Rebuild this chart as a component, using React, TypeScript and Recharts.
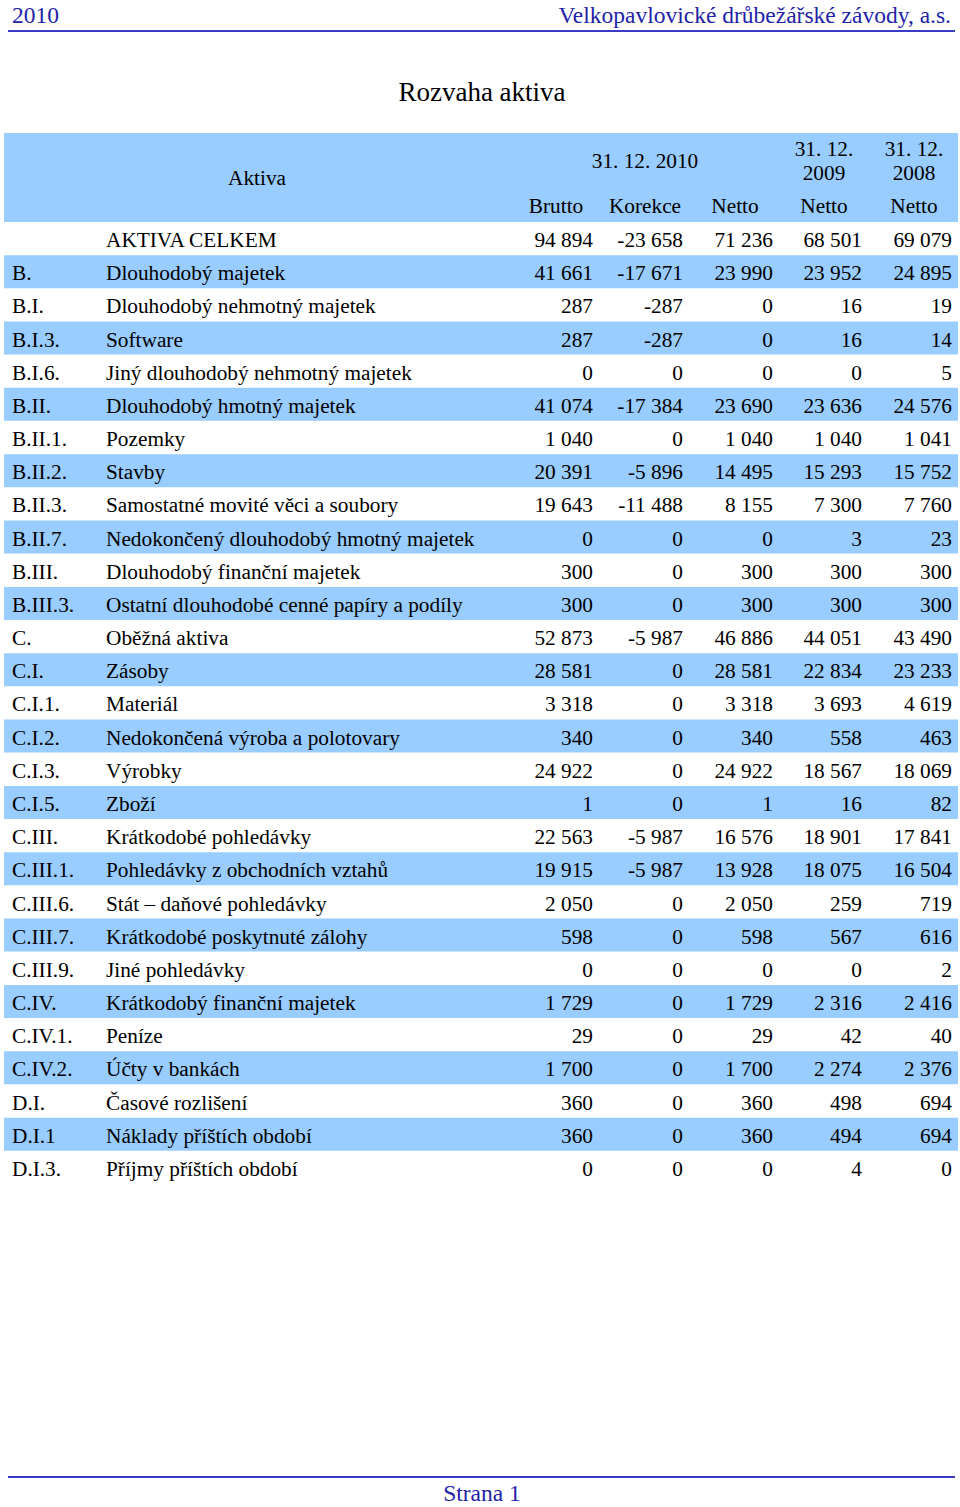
import React from 'react'
import { ComposedChart, Bar, XAxis, YAxis, Cell, LabelList } from 'recharts'

const codes = ['', 'B.', 'B.I.', 'B.I.3.', 'B.I.6.', 'B.II.', 'B.II.1.', 'B.II.2.', 'B.II.3.', 'B.II.7.', 'B.III.', 'B.III.3.', 'C.', 'C.I.', 'C.I.1.', 'C.I.2.', 'C.I.3.', 'C.I.5.', 'C.III.', 'C.III.1.', 'C.III.6.', 'C.III.7.', 'C.III.9.', 'C.IV.', 'C.IV.1.', 'C.IV.2.', 'D.I.', 'D.I.1', 'D.I.3.']
const names = ['AKTIVA CELKEM', 'Dlouhodobý majetek', 'Dlouhodobý nehmotný majetek', 'Software', 'Jiný dlouhodobý nehmotný majetek', 'Dlouhodobý hmotný majetek', 'Pozemky', 'Stavby', 'Samostatné movité věci a soubory', 'Nedokončený dlouhodobý hmotný majetek', 'Dlouhodobý finanční majetek', 'Ostatní dlouhodobé cenné papíry a podíly', 'Oběžná aktiva', 'Zásoby', 'Materiál', 'Nedokončená výroba a polotovary', 'Výrobky', 'Zboží', 'Krátkodobé pohledávky', 'Pohledávky z obchodních vztahů', 'Stát – daňové pohledávky', 'Krátkodobé poskytnuté zálohy', 'Jiné pohledávky', 'Krátkodobý finanční majetek', 'Peníze', 'Účty v bankách', 'Časové rozlišení', 'Náklady příštích období', 'Příjmy příštích období']
const brutto = [94894, 41661, 287, 287, 0, 41074, 1040, 20391, 19643, 0, 300, 300, 52873, 28581, 3318, 340, 24922, 1, 22563, 19915, 2050, 598, 0, 1729, 29, 1700, 360, 360, 0]
const korekce = [-23658, -17671, -287, -287, 0, -17384, 0, -5896, -11488, 0, 0, 0, -5987, 0, 0, 0, 0, 0, -5987, -5987, 0, 0, 0, 0, 0, 0, 0, 0, 0]
const netto2010 = [71236, 23990, 0, 0, 0, 23690, 1040, 14495, 8155, 0, 300, 300, 46886, 28581, 3318, 340, 24922, 1, 16576, 13928, 2050, 598, 0, 1729, 29, 1700, 360, 360, 0]
const netto2009 = [68501, 23952, 16, 16, 0, 23636, 1040, 15293, 7300, 3, 300, 300, 44051, 22834, 3693, 558, 18567, 16, 18901, 18075, 259, 567, 0, 2316, 42, 2274, 498, 494, 4]
const netto2008 = [69079, 24895, 19, 14, 5, 24576, 1041, 15752, 7760, 23, 300, 300, 43490, 23233, 4619, 463, 18069, 82, 17841, 16504, 719, 616, 2, 2416, 40, 2376, 694, 694, 0]
const subHeaders = ['Brutto', 'Korekce', 'Netto', 'Netto', 'Netto']

const BLUE = '#99CCFF'
const INK = '#000000'
const NAVY = '#2323a8'
const FONT = '"Liberation Serif", "Times New Roman", serif'
const FS = 21.3
const colRight = [593, 683, 773, 862, 952]
const colCenter = [556, 645, 735, 824, 914]

const rows = codes.map((code, i) => ({
  code, name: names[i], full: 1,
  vals: [brutto[i], korekce[i], netto2010[i], netto2009[i], netto2008[i]],
}))

const fmt = (v: number) => {
  const s = Math.abs(v).toString().replace(/\B(?=(\d{3})+(?!\d))/g, ' ')
  return v < 0 ? `-${s}` : s
}

function RowLabel(p: any) {
  const r = rows[p.index]
  if (!r) return null
  const base = p.y + p.height * 0.76
  return (
    <g fontFamily={FONT} fontSize={FS} fill={INK}>
      <text x={12} y={base}>{r.code}</text>
      <text x={106} y={base}>{r.name}</text>
      {r.vals.map((v, k) => (
        <text key={k} x={colRight[k]} y={base} textAnchor="end">{fmt(v)}</text>
      ))}
    </g>
  )
}

const abs = (left: number, top: number, extra: React.CSSProperties = {}): React.CSSProperties => ({ position: 'absolute', left, top, whiteSpace: 'nowrap', ...extra })
const cell = (cx: number, top: number, w = 100): React.CSSProperties => abs(cx - w / 2, top, { width: w, textAlign: 'center', fontSize: FS, lineHeight: '26px' })

export default function App() {
  const bodyH = 962
  return (
    <div style={{ position: 'absolute', left: 0, top: 0, width: 960, height: 1507, background: '#fff', fontFamily: FONT, color: INK, overflow: 'hidden' }}>
      <div style={abs(12, 2, { fontSize: 23.5, lineHeight: '26px', color: NAVY })}>2010</div>
      <div style={abs(0, 2, { width: 951, textAlign: 'right', fontSize: 23.5, lineHeight: '26px', color: NAVY })}>Velkopavlovické drůbežářské závody, a.s.</div>
      <div style={abs(8, 30, { width: 947, height: 2, background: '#3a3ac4' })} />

      <div style={abs(0, 76, { width: 964, textAlign: 'center', fontSize: 27, lineHeight: '32px' })}>Rozvaha aktiva</div>

      {/* hlavička tabulky */}
      <div style={abs(4, 133, { width: 954, height: 89, background: BLUE })} />
      <div style={cell(257, 165, 200)}>Aktiva</div>
      <div style={cell(645, 148, 200)}>31. 12. 2010</div>
      {[['31. 12.', '2009', 824], ['31. 12.', '2008', 914]].map(([a, b, cx]) => (
        <React.Fragment key={String(b)}>
          <div style={cell(cx as number, 136)}>{a}</div>
          <div style={cell(cx as number, 160)}>{b}</div>
        </React.Fragment>
      ))}
      {subHeaders.map((h, k) => (
        <div key={k} style={cell(colCenter[k], 193)}>{h}</div>
      ))}

      <div style={abs(0, 222)}>
        <ComposedChart layout="vertical" width={960} height={bodyH} data={rows} margin={{ top: 0, right: 2, bottom: 0, left: 4 }} barCategoryGap={0}>
          <XAxis type="number" domain={[0, 1]} hide />
          <YAxis type="category" dataKey="code" hide />
          <Bar dataKey="full" isAnimationActive={false}>
            {rows.map((_, i) => <Cell key={i} fill={i % 2 === 1 ? BLUE : 'transparent'} />)}
            <LabelList dataKey="full" content={RowLabel} />
          </Bar>
        </ComposedChart>
      </div>

      <div style={abs(8, 1476, { width: 947, height: 2, background: '#3a3ac4' })} />
      <div style={abs(0, 1480, { width: 964, textAlign: 'center', fontSize: 23.5, lineHeight: '26px', color: NAVY })}>Strana 1</div>
    </div>
  )
}
